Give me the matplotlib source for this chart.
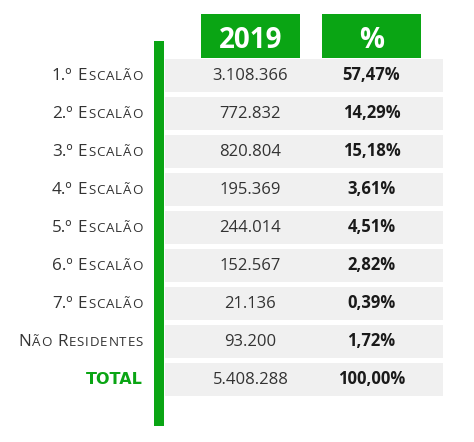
import matplotlib
matplotlib.use("Agg")
import matplotlib.pyplot as plt
from matplotlib.patches import Rectangle

# table data
labels = ["1.º Escalão", "2.º Escalão", "3.º Escalão", "4.º Escalão", "5.º Escalão",
          "6.º Escalão", "7.º Escalão", "Não Residentes", "TOTAL"]
values = [3108366, 772832, 820804, 195369, 244014, 152567, 21136, 93200, 5408288]
percents = [57.47, 14.29, 15.18, 3.61, 4.51, 2.82, 0.39, 1.72, 100.00]
headers = ["2019", "%"]

GREEN = "#0aa514"
GRAY = "#f0f0f0"
TEXT = "#333333"
FONT = "Open Sans"

fig = plt.figure(figsize=(4.74, 4.42), dpi=100)
ax = fig.add_axes([0, 0, 1, 1])
ax.set_xlim(0, 474)
ax.set_ylim(442, 0)
ax.axis("off")

renderer = fig.canvas.get_renderer()


def fmt_int(v):
    return "{:,}".format(v).replace(",", ".")


def fmt_pct(p):
    return "{:.2f}".format(p).replace(".", ",") + "%"


def small_caps(text):
    # split text into (segment, is_big) pieces, like a small caps font
    parts = []
    for word_i, word in enumerate(text.split(" ")):
        if word_i > 0:
            parts.append((" ", True))
        first = word[0]
        rest = word[1:]
        if first.isalpha():
            parts.append((first.upper(), True))
            for ch in rest.upper():
                parts.append((ch, False))
        else:
            parts.append((word, True))
    return parts


def draw_right(x, y, parts, big=12.3, small=9.6, track=0.9):
    # draw pieces from right to left, measuring each one
    for seg, is_big in reversed(parts):
        if seg == " ":
            x -= 4.5
            continue
        t = ax.text(x, y, seg, ha="right", va="baseline", fontsize=big if is_big else small,
                    family=FONT, color=TEXT)
        bb = t.get_window_extent(renderer)
        x -= bb.width * 474 / fig.bbox.width + (track if not is_big else 1.0)


# header boxes
col_x = [250.5, 371.5]
for cx, h in zip(col_x, headers):
    ax.add_patch(Rectangle((cx - 49.5, 14), 99, 44, facecolor=GREEN, edgecolor="none"))
    ax.text(cx, 47.5, h, ha="center", va="baseline", fontsize=20, fontweight="bold",
            family=FONT, color="white")

# rows
row_top = 59
pitch = 38
row_h = 33
for i, (lab, v, p) in enumerate(zip(labels, values, percents)):
    top = row_top + i * pitch
    ax.add_patch(Rectangle((165, top), 278, row_h, facecolor=GRAY, edgecolor="none"))
    base = top + 20.5
    if lab == "TOTAL":
        ax.text(143, base, lab, ha="right", va="baseline", fontsize=11.5, fontweight="bold",
                family=["Liberation Sans Narrow", "DejaVu Sans"], color=GREEN)
    else:
        draw_right(143, base, small_caps(lab))
    ax.text(col_x[0], base, fmt_int(v), ha="center", va="baseline", fontsize=12,
            family=FONT, color=TEXT)
    ax.text(col_x[1], base, fmt_pct(p), ha="center", va="baseline", fontsize=12,
            fontweight="bold", family=FONT, color="#1a1a1a")

# green vertical bar
ax.add_patch(Rectangle((154, 41), 10, 385, facecolor=GREEN, edgecolor="none"))

fig.savefig("out.png", dpi=100, facecolor="white")
